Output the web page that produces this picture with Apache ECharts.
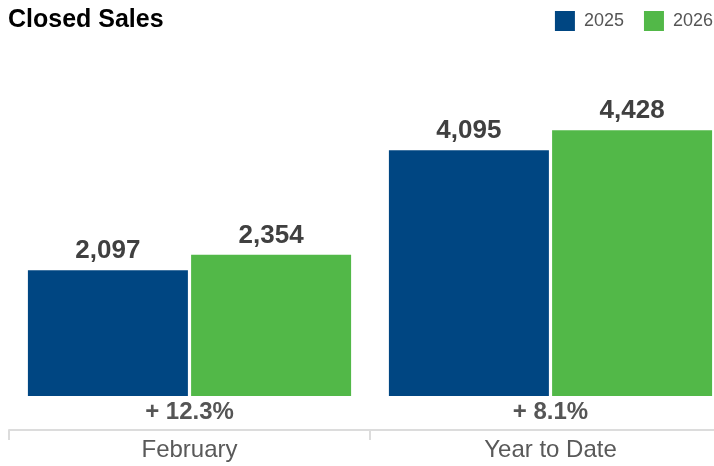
<!DOCTYPE html>
<html>
<head>
<meta charset="utf-8">
<script src="https://cdn.jsdelivr.net/npm/echarts@6/dist/echarts.min.js"></script>
<style>
  html, body { margin: 0; padding: 0; background: #fff; }
  #chart { width: 714px; height: 466px; }
</style>
</head>
<body>
<div id="chart"></div>
<script>
// Closed sales: current month vs. year to date, two years side by side
const periods = ['February', 'Year to Date'];
const years = ['2025', '2026'];
const sales2025 = [2097, 4095];
const sales2026 = [2354, 4428];
const changes = ['+ 12.3%', '+ 8.1%'];

const BLUE = '#004682';
const GREEN = '#52b848';
const FONT = "'Liberation Sans', Arial, Helvetica, sans-serif";

const chart = echarts.init(document.getElementById('chart'));

const valueLabel = {
  show: true,
  position: 'top',
  distance: 6,
  fontFamily: FONT,
  fontSize: 26,
  fontWeight: 'bold',
  color: '#404040',
  formatter: p => p.value.toLocaleString('en-US')
};

chart.setOption({
  animation: false,
  title: {
    text: 'Closed Sales',
    left: 8,
    top: 8,
    padding: 0,
    textStyle: { fontFamily: FONT, fontSize: 25, fontWeight: 'bold', color: '#000' }
  },
  legend: {
    right: 1,
    top: 11,
    padding: 0,
    itemWidth: 20,
    itemHeight: 20,
    itemGap: 20,
    icon: 'rect',
    data: years,
    textStyle: { fontFamily: FONT, fontSize: 18, color: '#555', padding: [0, 0, 0, 4] }
  },
  // the plot area runs past the right edge so the last group sits flush with it
  grid: { left: 9, top: 36, width: 722, height: 360, outerBoundsMode: 'none', containLabel: false },
  xAxis: [
    {
      type: 'category',
      data: changes,
      axisLine: { show: false },
      axisTick: { show: false },
      axisLabel: {
        margin: 4,
        fontFamily: FONT,
        fontSize: 24,
        fontWeight: 'bold',
        color: '#555'
      }
    },
    {
      type: 'category',
      data: periods,
      position: 'bottom',
      offset: 34,
      axisLine: { show: true, lineStyle: { color: '#dcdcdc', width: 2 } },
      axisTick: { show: true, length: 10, lineStyle: { color: '#dcdcdc', width: 2 } },
      axisLabel: { margin: 8, fontFamily: FONT, fontSize: 24, color: '#595959' }
    }
  ],
  yAxis: { type: 'value', min: 0, max: 6000, show: false, splitLine: { show: false } },
  series: [
    {
      name: years[0],
      type: 'bar',
      xAxisIndex: 0,
      data: sales2025,
      barWidth: 160,
      barGap: '2%',
      itemStyle: { color: BLUE },
      label: valueLabel
    },
    {
      name: years[1],
      type: 'bar',
      xAxisIndex: 0,
      data: sales2026,
      barWidth: 160,
      barGap: '2%',
      itemStyle: { color: GREEN },
      label: valueLabel
    }
  ]
});
</script>
</body>
</html>
